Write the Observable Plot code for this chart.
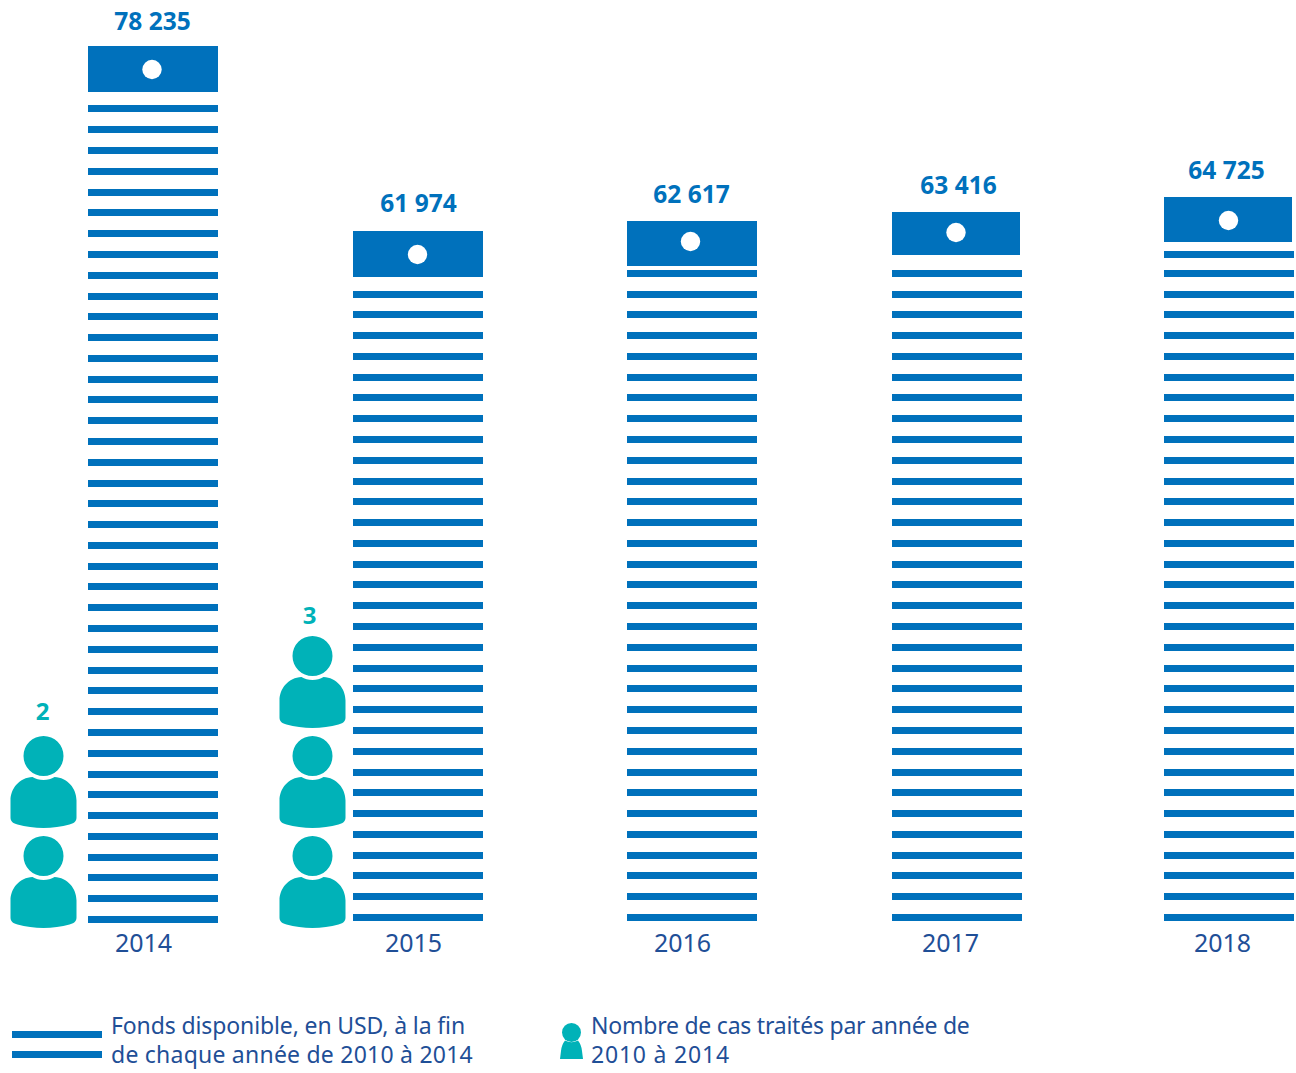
<!DOCTYPE html>
<html lang="fr">
<head>
<meta charset="utf-8">
<script src="https://cdn.jsdelivr.net/npm/d3@7"></script>
<script src="https://cdn.jsdelivr.net/npm/@observablehq/plot@0.6"></script>
<style>
  html, body { margin: 0; padding: 0; background: #fff; }
  #chart svg { display: block; }
  #legend { position: relative; width: 1296px; height: 88px; font-family: "Noto Sans", sans-serif; font-size: 23px; line-height: 29px; color: #1f4f97; }
  #legend .t { position: absolute; white-space: pre; }
  #legend svg { position: absolute; left: 0; top: 0; }
</style>
</head>
<body>
<div id="chart"></div>
<div id="legend">
  <svg width="600" height="88">
    <rect x="12" y="46" width="90" height="7" fill="#0071bc"/>
    <rect x="12" y="66" width="90" height="7" fill="#0071bc"/>
    <circle cx="571.5" cy="47.5" r="9.5" fill="#00b2b8"/>
    <path d="M565 55.5 Q571.5 59 578 55.5 Q581.5 60 582 66 L583 74 L560 74 L561 66 Q561.5 60 565 55.5 Z" fill="#00b2b8"/>
  </svg>
  <div class="t" style="left:111px;top:26px;letter-spacing:-0.12px">Fonds disponible, en USD, à la fin</div>
  <div class="t" style="left:111px;top:55px;letter-spacing:0.23px">de chaque année de 2010 à 2014</div>
  <div class="t" style="left:591px;top:26px;letter-spacing:-0.23px">Nombre de cas traités par année de</div>
  <div class="t" style="left:591px;top:55px;letter-spacing:0.8px">2010 à 2014</div>
</div>
<script>
// Data
const years = [2014, 2015, 2016, 2017, 2018];
const funds = [78235, 61974, 62617, 63416, 64725];
const cases = [2, 3, 0, 0, 0];
const stripeCounts = [40, 31, 32, 32, 33];

// Drawing parameters
const blue = "#0071bc", teal = "#00b2b8", dark = "#1f4f97";
const font = '"Noto Sans", sans-serif';
const usdPerStripe = 1854, usdPerCase = 8921;
const stripeBase = {2014: 0, 2015: 178, 2016: 178, 2017: 178, 2018: 178};
const topStripeTrim = {2018: 178};
const blockUsd = {2014: 4100, 2015: 4100, 2016: 4010, 2017: 3830, 2018: 4010};
const blockNudge = {2015: 3};
const blockRight = {2017: -63, 2018: -63};
const yearDx = {2014: -10, 2015: -5, 2016: -10, 2017: -7, 2018: -7};
const valueDx = {2014: -1, 2015: 0, 2016: -1, 2017: 1, 2018: -3};
const valueDy = {2014: -24, 2015: -24, 2016: -26, 2017: -26, 2018: -26};
const dotDx = {2014: -1.5, 2015: -1, 2016: -2, 2017: -1.5, 2018: -1};
const dotDy = {2015: 3, 2016: -3, 2017: -3};
const personDx = {2014: -110, 2015: -106};
const countDx = {2014: -111, 2015: -109};
const countDy = {2014: -25, 2015: -21};

const fmt = d3.formatLocale({decimal: ",", thousands: " ", grouping: [3], currency: ["", ""]}).format(",d");
const rows = years.map((year, i) => ({year, value: funds[i], cases: cases[i], stripes: stripeCounts[i]}));

const stripes = rows.flatMap(d => d3.range(d.stripes).map(k => ({
  year: d.year,
  v: stripeBase[d.year] + k * usdPerStripe - (k === d.stripes - 1 ? (topStripeTrim[d.year] ?? 0) : 0)
})));
const people = rows.flatMap(d => d3.range(d.cases).map(k => ({year: d.year, v: (k + 0.405) * usdPerCase})));

// Person pictogram, centred on the dot, scaled by r
const person = {
  draw(c, size) {
    const k = Math.sqrt(size / Math.PI) / 46;
    const P = (a) => a * k;
    c.moveTo(P(20), P(-26.5));
    c.arc(0, P(-26.5), P(20), 0, 2 * Math.PI);
    c.closePath();
    c.moveTo(P(-11), P(-5.5));
    c.bezierCurveTo(P(-5), P(-1.5), P(5), P(-1.5), P(11), P(-5.5));
    c.bezierCurveTo(P(24), P(-5), P(33), P(6), P(33), P(18));
    c.lineTo(P(33), P(35));
    c.bezierCurveTo(P(33), P(39), P(30), P(41), P(26), P(42));
    c.bezierCurveTo(P(10), P(46.5), P(-10), P(46.5), P(-26), P(42));
    c.bezierCurveTo(P(-30), P(41), P(-33), P(39), P(-33), P(35));
    c.lineTo(P(-33), P(18));
    c.bezierCurveTo(P(-33), P(6), P(-24), P(-5), P(-11), P(-5.5));
    c.closePath();
  }
};

const perYear = (fn) => rows.flatMap(fn);

const chart = Plot.plot({
  width: 1296, height: 985,
  margin: 0,
  style: {background: "#fff", fontFamily: font},
  x: {type: "linear", domain: years, range: [153, 418, 692, 957, 1229], axis: null},
  y: {type: "linear", domain: [0, 78235], range: [923, 46], round: true, axis: null},
  marks: [
    Plot.rect(stripes, {x1: "year", x2: "year", y1: "v", y2: "v", fill: blue,
      insetLeft: -65, insetRight: -65, insetTop: -7}),
    ...perYear(d => [
      Plot.rect([d], {x1: "year", x2: "year", y1: "value", y2: x => x.value - blockUsd[x.year], fill: blue,
        insetLeft: -65, insetRight: blockRight[d.year] ?? -65, dy: blockNudge[d.year] ?? 0}),
      Plot.dot([d], {x: "year", y: x => x.value - 2050, r: 9.7, fill: "#fff", stroke: "none",
        dx: dotDx[d.year], dy: dotDy[d.year] ?? 0}),
      Plot.text([d], {x: "year", y: "value", text: x => fmt(x.value), fill: blue, fontWeight: 700, fontSize: 24.5,
        dx: valueDx[d.year], dy: valueDy[d.year]}),
      Plot.text([d], {x: "year", y: 0, text: x => String(x.year), fill: dark, fontSize: 25,
        dx: yearDx[d.year], dy: 20})
    ]),
    ...perYear(d => d.cases ? [
      Plot.dot(people.filter(p => p.year === d.year), {x: "year", y: "v", symbol: person, r: 46, fill: teal, stroke: "none",
        dx: personDx[d.year]}),
      Plot.text([d], {x: "year", y: x => (x.cases - 0.14) * usdPerCase, text: x => String(x.cases), fill: teal, fontWeight: 700, fontSize: 24,
        dx: countDx[d.year], dy: countDy[d.year]})
    ] : [])
  ]
});
document.getElementById("chart").append(chart);
</script>
</body>
</html>
